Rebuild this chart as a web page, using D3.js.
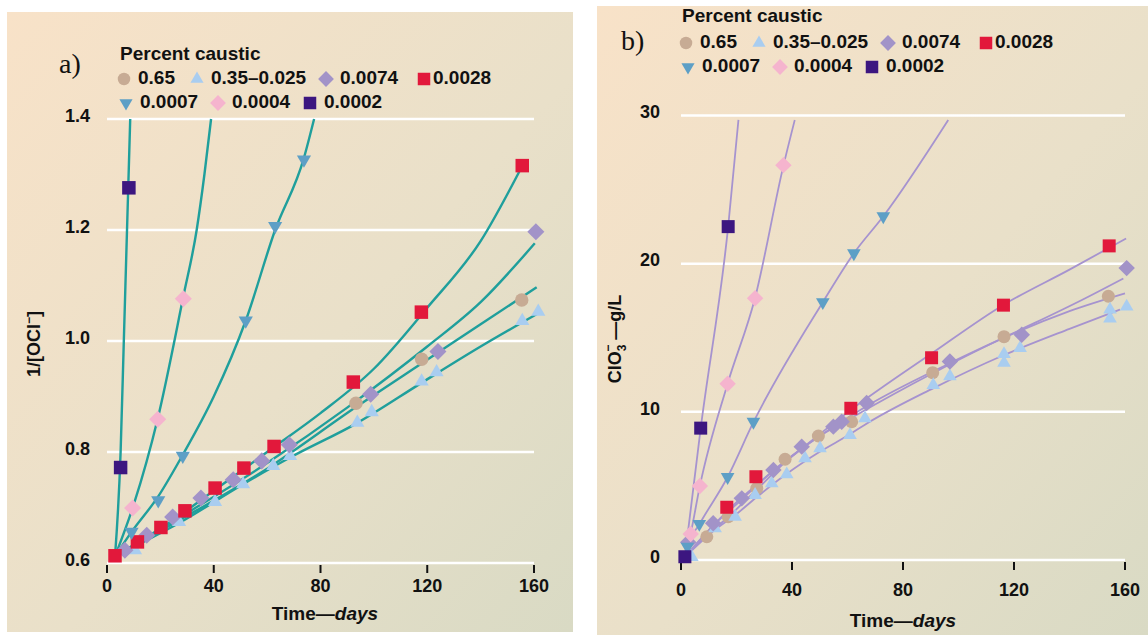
<!DOCTYPE html>
<meta charset="utf-8">
<script src="https://d3js.org/d3.v7.min.js"></script>
<style>
  body { margin: 0; background: #fff; }
  text { font-family: "Liberation Sans", Arial, Helvetica, sans-serif; font-weight: bold; fill: #111; }
</style>
<div id="chart"></div>
<script>
// Series (legend order)
const seriesNames  = ["0.65", "0.35\u20130.025", "0.0074", "0.0028", "0.0007", "0.0004", "0.0002"];
const seriesColors = ["#c7ab94", "#a9cdf0", "#a293c8", "#e2183b", "#5d9fc6", "#f5b4ce", "#3c1680"];
const seriesShapes = ["circle", "triangle", "diamond", "square", "triangleDown", "diamond", "square"];
const xTicks = [0, 40, 80, 120, 160];
const yTicksA = [0.6, 0.8, 1.0, 1.2, 1.4];
const yTicksB = [0, 10, 20, 30];

// Panel a) 1/[OCl-] vs days : measured points [day, value]
const a065  = [[93.3, 0.888], [117.9, 0.967], [155.4, 1.074]];
const a035  = [[10.5, 0.623], [27, 0.674], [40.5, 0.71], [51, 0.742], [62.3, 0.775], [68.6, 0.793],
               [93.8, 0.853], [99.2, 0.872], [117.9, 0.927], [123.5, 0.944], [155.6, 1.036], [161.6, 1.053]];
const a0074 = [[6.7, 0.623], [14.9, 0.65], [24.6, 0.683], [35.2, 0.717], [47.3, 0.75], [58, 0.784],
               [68.3, 0.813], [98.8, 0.904], [124, 0.981], [160.7, 1.197]];
const a0028 = [[3, 0.613], [11.4, 0.638], [20.2, 0.664], [29.2, 0.694], [40.5, 0.735], [51.3, 0.771],
               [62.6, 0.81], [92.3, 0.926], [117.8, 1.052], [155.6, 1.316]];
const a0007 = [[9.2, 0.656], [19.2, 0.713], [28.4, 0.793], [52, 1.037], [63, 1.207], [73.8, 1.327]];
const a0004 = [[9.6, 0.699], [19, 0.859], [28.6, 1.076]];
const a0002 = [[5.1, 0.772], [8.2, 1.276]];

// Panel a) fitted curves
const aFit065  = [[3, 0.612], [30, 0.685], [60, 0.77], [93, 0.88], [118, 0.96], [140, 1.03], [161, 1.097]];
const aFit035  = [[3, 0.612], [27, 0.672], [51, 0.742], [68.6, 0.79], [94, 0.853], [118, 0.925], [140, 0.99], [161.6, 1.05]];
const aFit0074 = [[3, 0.612], [30, 0.69], [60, 0.78], [90, 0.88], [120, 0.99], [140, 1.07], [160.3, 1.176]];
const aFit0028 = [[3, 0.612], [20, 0.662], [40, 0.73], [60, 0.8], [80, 0.87], [100, 0.95], [120, 1.06], [140, 1.18], [155, 1.31]];
const aFit0007 = [[3, 0.612], [9.2, 0.656], [19.2, 0.72], [28.4, 0.795], [40, 0.9], [52, 1.037], [63, 1.2], [73.8, 1.33], [77.6, 1.4]];
const aFit0004 = [[3, 0.612], [10, 0.705], [19, 0.86], [28.6, 1.08], [33.6, 1.2], [36.5, 1.3], [39, 1.4]];
const aFit0002 = [[3, 0.612], [5.1, 0.8], [6.3, 1.0], [7.5, 1.2], [8.7, 1.4]];

// Panel b) ClO3- g/L vs days : measured points
const b065  = [[9.3, 1.57], [17, 2.92], [27.3, 4.84], [37.5, 6.8], [49.5, 8.37], [61.5, 9.33],
               [90.7, 12.64], [116.4, 15.07], [154, 17.8]];
const b035  = [[3.9, 0.2], [12.3, 2.14], [19.5, 2.92], [26.7, 4.39], [32.7, 5.17], [38.1, 5.78], [44.7, 6.86],
               [50.1, 7.54], [60.9, 8.43], [66.3, 9.56], [90.9, 11.8], [96.9, 12.4], [116.4, 13.9], [116.4, 13.3],
               [122.2, 14.3], [154.6, 16.9], [154.6, 16.3], [160.6, 17.1]];
const b0074 = [[2.6, 1.2], [11.6, 2.48], [21.9, 4.16], [33.3, 6.07], [43.5, 7.65], [54.9, 9.0], [57.9, 9.33],
               [66.9, 10.6], [96.9, 13.4], [122.8, 15.2], [160.6, 19.7]];
const b0028 = [[16.5, 3.56], [27, 5.62], [61.2, 10.24], [90.3, 13.65], [116.2, 17.2], [154.3, 21.2]];
const b0007 = [[2.3, 0.9], [6.6, 2.43], [16.8, 5.6], [26.1, 9.33], [51.1, 17.4], [62.3, 20.7], [72.9, 23.2]];
const b0004 = [[3.5, 1.75], [6.8, 5.0], [16.8, 11.9], [26.7, 17.66], [36.9, 26.65]];
const b0002 = [[1.4, 0.22], [7.1, 8.9], [17, 22.5]];

// Panel b) fitted curves
const bFit065  = [[1.4, 0.2], [9, 1.6], [17, 2.9], [27, 4.7], [37.5, 6.6], [49.5, 8.3], [61.5, 9.6], [90.7, 12.6], [116.4, 15.0], [140, 16.8], [160, 18.0]];
const bFit035  = [[1.4, 0.2], [12, 2.0], [20, 3.1], [27, 4.2], [38, 5.8], [50, 7.3], [61, 8.5], [66, 9.1], [91, 11.6], [116, 13.8], [140, 15.6], [158.2, 16.9]];
const bFit0074 = [[1.4, 0.2], [12, 2.4], [22, 4.1], [33, 6.0], [44, 7.6], [55, 9.0], [67, 10.4], [97, 13.3], [123, 15.6], [145, 17.6], [159.4, 19.0]];
const bFit0028 = [[1.4, 0.2], [10, 2.0], [20, 3.9], [30, 5.5], [40, 7.0], [61, 10.1], [90, 13.9], [116, 17.2], [140, 19.6], [160.4, 21.7]];
const bFit0007 = [[1.4, 0.2], [2.3, 0.9], [6.6, 2.4], [16.8, 5.6], [26.1, 9.3], [51.1, 17.4], [62.3, 20.7], [72.9, 23.2], [96.3, 29.7]];
const bFit0004 = [[1.4, 0.2], [3.5, 1.8], [6.8, 5.0], [16.8, 11.9], [26.7, 17.7], [36.9, 26.6], [41, 29.7]];
const bFit0002 = [[1.4, 0.2], [7.1, 8.9], [17, 22.5], [20.7, 29.7]];

const W = 1148, H = 635;
const svg = d3.select("#chart").append("svg").attr("width", W).attr("height", H);

// background gradient
const defs = svg.append("defs");
const grad = defs.append("linearGradient").attr("id", "bg")
    .attr("x1", "0%").attr("y1", "0%").attr("x2", "100%").attr("y2", "100%");
grad.append("stop").attr("offset", "0%").attr("stop-color", "#f8e2c8");
grad.append("stop").attr("offset", "55%").attr("stop-color", "#e9e0c9");
grad.append("stop").attr("offset", "100%").attr("stop-color", "#d9dac4");

function symbolPath(shape, s) {
  let type = d3.symbolSquare, size = s * s, rot = 0;
  if (shape === "circle") { type = d3.symbolCircle; size = Math.PI * s * s / 4; }
  if (shape === "triangle" || shape === "triangleDown") {
    type = d3.symbolTriangle; size = Math.sqrt(3) / 4 * s * s * 1.1;
    if (shape === "triangleDown") rot = 180;
  }
  if (shape === "diamond") { size = s * s * 0.8; rot = 45; }
  return { d: d3.symbol().type(type).size(size)(), rot: rot };
}

function drawPanel(cfg) {
  const g = svg.append("g");
  g.append("rect").attr("x", cfg.box[0]).attr("y", cfg.box[1])
    .attr("width", cfg.box[2]).attr("height", cfg.box[3]).attr("fill", "url(#bg)");

  const x = d3.scaleLinear().domain([0, 160]).range(cfg.xRange);
  const y = d3.scaleLinear().domain(cfg.yDomain).range(cfg.yRange);

  // grid
  g.append("g").selectAll("line").data(cfg.yTicks).join("line")
    .attr("x1", x(0)).attr("x2", x(160))
    .attr("y1", d => y(d)).attr("y2", d => y(d))
    .attr("stroke", "#fff").attr("stroke-width", 2.5);

  // y tick labels
  g.append("g").selectAll("text").data(cfg.yTicks).join("text")
    .attr("x", cfg.yLabelX).attr("y", d => y(d) - 2)
    .attr("text-anchor", "end").attr("dominant-baseline", "middle")
    .style("font-size", "18px").text(cfg.yFmt);

  // x ticks + labels
  const base = y(cfg.yDomain[0]);
  g.append("g").selectAll("line").data(xTicks).join("line")
    .attr("x1", d => x(d)).attr("x2", d => x(d))
    .attr("y1", base + 2).attr("y2", base + 10)
    .attr("stroke", "#111").attr("stroke-width", 2);
  g.append("g").selectAll("text").data(xTicks).join("text")
    .attr("x", d => x(d)).attr("y", cfg.xLabelY)
    .attr("text-anchor", "middle").style("font-size", "18px").text(d => d);

  // x title
  const xt = g.append("text").attr("x", cfg.xTitle[0]).attr("y", cfg.xTitle[1])
    .attr("text-anchor", "middle").style("font-size", "19px");
  xt.append("tspan").text("Time\u2014");
  xt.append("tspan").style("font-style", "italic").text("days");

  // y title
  const yt = g.append("text")
    .attr("transform", `translate(${cfg.yTitle[0]},${cfg.yTitle[1]}) rotate(-90)`)
    .attr("text-anchor", "middle").style("font-size", "18px");
  cfg.yTitleBuild(yt);

  // panel letter
  g.append("text").attr("x", cfg.letter[0]).attr("y", cfg.letter[1])
    .style("font-family", "'Liberation Serif', 'Times New Roman', serif")
    .style("font-weight", "normal").style("font-size", "28px").text(cfg.letter[2]);

  // fitted curves
  const line = d3.line().x(d => x(d[0])).y(d => y(d[1])).curve(d3.curveMonotoneX);
  g.append("g").selectAll("path").data(cfg.fits).join("path")
    .attr("d", line).attr("fill", "none")
    .attr("stroke", cfg.lineColor).attr("stroke-width", cfg.lineWidth);

  // markers
  cfg.drawOrder.forEach(i => {
    const sp = symbolPath(seriesShapes[i], cfg.markerSize);
    g.append("g").selectAll("path").data(cfg.points[i]).join("path")
      .attr("d", sp.d)
      .attr("transform", d => `translate(${x(d[0])},${y(d[1])}) rotate(${sp.rot})`)
      .attr("fill", seriesColors[i]);
  });

  // legend
  const lg = g.append("g").attr("transform", `translate(${cfg.legend[0]},${cfg.legend[1]})`);
  lg.append("text").attr("x", -4).attr("y", cfg.legendTitleDy).attr("dominant-baseline", "middle")
    .style("font-size", "19px").text("Percent caustic");
  const legendPos = [[0, 0], [73, 0], [202, 0], [300, 0], [2, 24], [94, 24], [186, 24]];
  seriesNames.forEach((name, i) => {
    const p = legendPos[i];
    const sp = symbolPath(seriesShapes[i], 12.5);
    lg.append("path").attr("d", sp.d)
      .attr("transform", `translate(${p[0]},${p[1]}) rotate(${sp.rot})`)
      .attr("fill", seriesColors[i]);
    lg.append("text").attr("x", p[0] + (i === 3 ? 9 : 14)).attr("y", p[1])
      .attr("dominant-baseline", "middle").style("font-size", "19px").text(name);
  });
}

drawPanel({
  box: [7, 12, 566, 620],
  xRange: [107, 534], yDomain: [0.6, 1.4], yRange: [563, 119],
  yTicks: yTicksA, yFmt: d3.format(".1f"), yLabelX: 90, xLabelY: 592,
  xTitle: [325, 620], yTitle: [40, 344],
  yTitleBuild: t => {
    t.append("tspan").text("1/[OCl");
    t.append("tspan").attr("dy", -7).style("font-size", "12px").text("\u2212");
    t.append("tspan").attr("dy", 7).text("]");
  },
  letter: [59, 73, "a)"],
  lineColor: "#1f9f9c", lineWidth: 2.4, markerSize: 13.5,
  fits: [aFit065, aFit035, aFit0074, aFit0028, aFit0007, aFit0004, aFit0002],
  points: [a065, a035, a0074, a0028, a0007, a0004, a0002],
  drawOrder: [0, 1, 2, 3, 4, 5, 6],
  legend: [124, 79], legendTitleDy: -24
});

drawPanel({
  box: [597, 6, 551, 629],
  xRange: [681, 1125], yDomain: [0, 30], yRange: [560, 115.5],
  yTicks: yTicksB, yFmt: d3.format("d"), yLabelX: 660, xLabelY: 596,
  xTitle: [903, 627], yTitle: [621, 339],
  yTitleBuild: t => {
    t.append("tspan").text("ClO");
    t.append("tspan").attr("dy", 5).style("font-size", "12px").text("3");
    t.append("tspan").attr("dx", -7).attr("dy", -14).style("font-size", "12px").text("\u2212");
    t.append("tspan").attr("dy", 9).text(" \u2014g/L");
  },
  letter: [621, 50, "b)"],
  lineColor: "#a693cf", lineWidth: 1.8, markerSize: 13,
  fits: [bFit065, bFit035, bFit0074, bFit0028, bFit0007, bFit0004, bFit0002],
  points: [b065, b035, b0074, b0028, b0007, b0004, b0002],
  drawOrder: [0, 1, 2, 3, 4, 5, 6],
  legend: [686, 43], legendTitleDy: -26
});
</script>
</html>
